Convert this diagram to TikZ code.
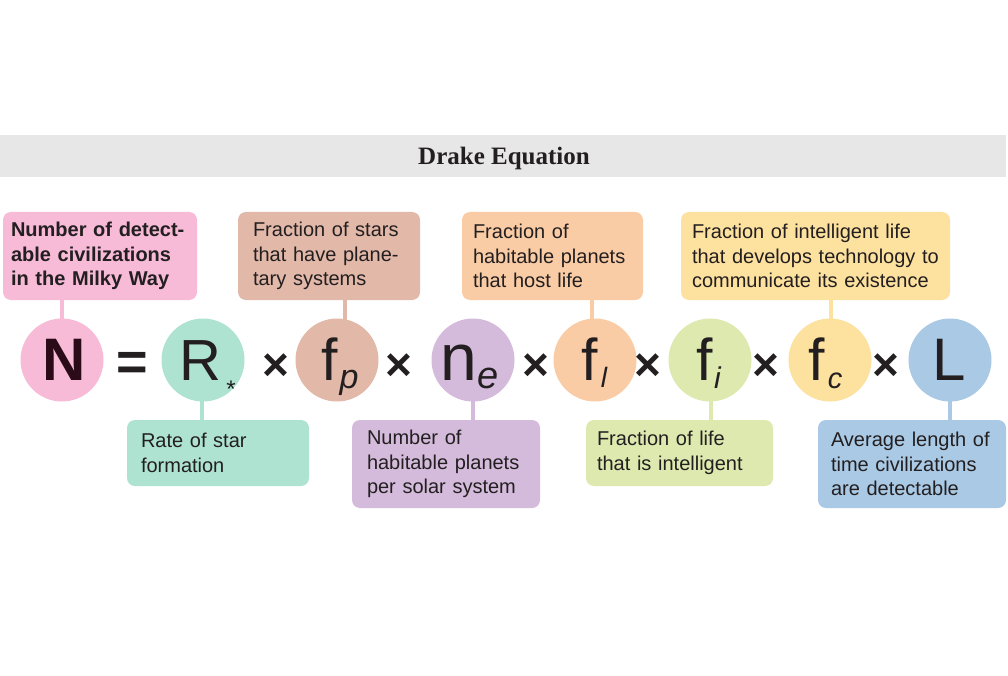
\documentclass[tikz,border=0pt]{standalone}
\usepackage{fontspec}
\setmainfont{Liberation Sans}
\newfontfamily\titlefont{Liberation Serif}
\definecolor{cpink}{HTML}{F7BAD7}
\definecolor{cteal}{HTML}{AEE3D2}
\definecolor{cbrown}{HTML}{E2B8A9}
\definecolor{cpurple}{HTML}{D4BBDB}
\definecolor{corange}{HTML}{FACCA5}
\definecolor{cgreen}{HTML}{DDE9AF}
\definecolor{cyellow}{HTML}{FDE19F}
\definecolor{cblue}{HTML}{AAC9E5}
\definecolor{cbar}{HTML}{E6E7E6}
\definecolor{ink}{HTML}{231F20}
\definecolor{nink}{HTML}{2A0B17}
\begin{document}
\begin{tikzpicture}[x=1pt,y=-1pt,
  circ/.style={circle, minimum size=83pt, inner sep=0pt, draw=none},
  infobox/.style={rectangle, rounded corners=8pt, inner ysep=0pt, align=left, text=ink,
    font=\fontsize{20}{24.5}\selectfont},
  boldbox/.style={font=\bfseries\fontsize{20}{24.5}\selectfont},
  conn/.style={line width=4pt},
  bigl/.style={anchor=base, inner sep=0pt, text=ink, font=\fontsize{#1}{#1}\selectfont},
  subl/.style={anchor=base, inner sep=0pt, text=ink, font=\itshape\fontsize{#1}{#1}\selectfont},
  op/.style={anchor=base, inner sep=0pt, text=ink, font=\bfseries\fontsize{#1}{#1}\selectfont},
  titletext/.style={anchor=base, inner sep=0pt, text=ink, font=\titlefont\bfseries\fontsize{25}{25}\selectfont}
]
\useasboundingbox (0,0) rectangle (1008,676);
\fill[white] (0,0) rectangle (1008,676);

% title bar
\fill[cbar] (0,135) rectangle (1006,177);
\node[titletext] (title) at (504,165) {Drake Equation};

% circle positions
\coordinate (pN) at (62,360);
\coordinate (pR) at (203,360);
\coordinate (pfp) at (337,360);
\coordinate (pne) at (473,360);
\coordinate (pfl) at (595,360);
\coordinate (pfi) at (710,360);
\coordinate (pfc) at (830,360);
\coordinate (pL) at (950,360);

% boxes
\node[infobox, boldbox, fill=cpink, minimum height=88pt, text width=178pt, inner xsep=8pt] (bN) at (100,256)
  {\mbox{Number of detect-}\\\mbox{able civilizations}\\\mbox{in the Milky Way}};
\node[infobox, fill=cbrown, minimum height=88pt, text width=152pt, inner xsep=15pt] (bfp) at (329,256)
  {\mbox{Fraction of stars}\\\mbox{that have plane-}\\\mbox{tary systems}};
\node[infobox, fill=corange, minimum height=88pt, text width=159pt, inner xsep=11pt] (bfl) at (552.5,256)
  {\mbox{Fraction of}\\\mbox{habitable planets}\\\mbox{that host life}};
\node[infobox, fill=cyellow, minimum height=88pt, text width=247pt, inner xsep=11pt] (bfc) at (815.5,256)
  {\mbox{Fraction of intelligent life}\\\mbox{that develops technology to}\\\mbox{communicate its existence}};
\node[infobox, fill=cteal, minimum height=66pt, text width=154pt, inner xsep=14pt] (bR) at (218,453)
  {\mbox{Rate of star}\\\mbox{formation}};
\node[infobox, fill=cpurple, minimum height=88pt, text width=158pt, inner xsep=15pt] (bne) at (446,464)
  {\mbox{Number of}\\\mbox{habitable planets}\\\mbox{per solar system}};
\node[infobox, fill=cgreen, minimum height=66pt, text width=165pt, inner xsep=11pt] (bfi) at (679.5,453)
  {\mbox{Fraction of life}\\\mbox{that is intelligent}};
\node[infobox, fill=cblue, minimum height=88pt, text width=162pt, inner xsep=13pt] (bL) at (912,464)
  {\mbox{Average length of}\\\mbox{time civilizations}\\\mbox{are detectable}};

% connectors
\draw[conn, cpink] (pN) -- (pN |- bN.south);
\draw[conn, cbrown] ([xshift=8pt]pfp) -- ([xshift=8pt]pfp |- bfp.south);
\draw[conn, corange] ([xshift=-3pt]pfl) -- ([xshift=-3pt]pfl |- bfl.south);
\draw[conn, cyellow] ([xshift=1pt]pfc) -- ([xshift=1pt]pfc |- bfc.south);
\draw[conn, cteal] ([xshift=-1pt]pR) -- ([xshift=-1pt]pR |- bR.north);
\draw[conn, cpurple] (pne) -- (pne |- bne.north);
\draw[conn, cgreen] ([xshift=1pt]pfi) -- ([xshift=1pt]pfi |- bfi.north);
\draw[conn, cblue] (pL) -- (pL |- bL.north);

% circles
\node[circ, fill=cpink] (N) at (pN) {};
\node[circ, fill=cteal] (R) at (pR) {};
\node[circ, fill=cbrown] (fp) at (pfp) {};
\node[circ, fill=cpurple] (ne) at (pne) {};
\node[circ, fill=corange] (fl) at (pfl) {};
\node[circ, fill=cgreen] (fi) at (pfi) {};
\node[circ, fill=cyellow] (fc) at (pfc) {};
\node[circ, fill=cblue] (L) at (pL) {};

% letters
\node[op=60, text=nink] (tN) at (64.5,380) {N};
\node[op=54] (eq) at (132,380) {=};
\node[bigl=58] (tR) at (200.5,380) {R};
\node[bigl=24] (tRs) at (231,397) {*};
\node[op=46] (x1) at (276,380) {×};
\node[bigl=59] (tfp) at (330,380) {f};
\node[subl=34] (tp) at (349,388) {p};
\node[op=46] (x2) at (399,380) {×};
\node[bigl=66] (tn) at (459,380) {n};
\node[subl=38] (te) at (488.5,388) {e};
\node[op=46] (x3) at (536,380) {×};
\node[bigl=59] (tfl) at (590,380) {f};
\node[subl=28] (tl) at (604,387) {l};
\node[op=46] (x4) at (648,380) {×};
\node[bigl=59] (tfi) at (705,380) {f};
\node[subl=30] (ti) at (717.5,388) {i};
\node[op=46] (x5) at (766,380) {×};
\node[bigl=59] (tfc) at (816.5,380) {f};
\node[subl=29] (tc) at (835,388) {c};
\node[op=46] (x6) at (886,380) {×};
\node[bigl=60] (tL) at (949,380) {L};
\end{tikzpicture}
\end{document}
